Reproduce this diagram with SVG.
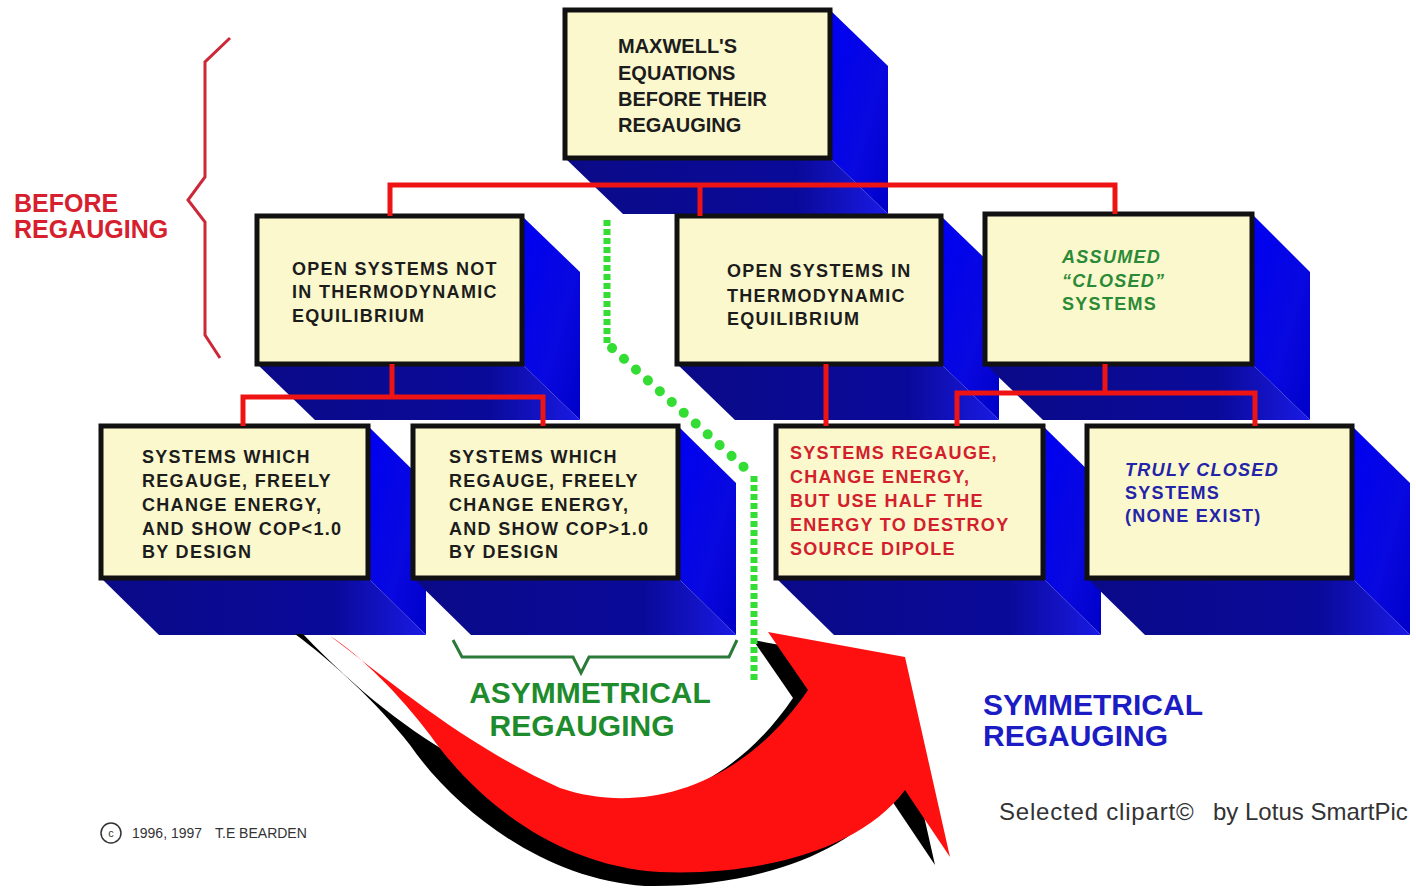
<svg xmlns="http://www.w3.org/2000/svg" width="1416" height="892" viewBox="0 0 1416 892">
<defs>
<linearGradient id="bot" x1="0" y1="0" x2="1" y2="0">
<stop offset="0" stop-color="#0a0a88"/>
<stop offset="0.72" stop-color="#0a0a9a"/>
<stop offset="1" stop-color="#1a1ae6"/>
</linearGradient>
<linearGradient id="side" x1="0" y1="0" x2="1" y2="1">
<stop offset="0" stop-color="#0000f2"/>
<stop offset="0.6" stop-color="#0808e0"/>
<stop offset="1" stop-color="#0000c8"/>
</linearGradient>
<style>
.side{fill:url(#side)}
.bot{fill:url(#bot)}
.front{fill:#fbf8cd;stroke:#111;stroke-width:5}
.t{font-family:"Liberation Sans",Arial,Helvetica,sans-serif;font-weight:bold}
.b1{font-size:20px;fill:#1c1c1c}
.bx{font-size:18px;letter-spacing:1.3px;fill:#1c1c1c}
.red{fill:#d2202c}
.grn{fill:#2b8a36}
.blu{fill:#2424a8}
.conn{fill:none;stroke:#ee1414;stroke-width:5}
.cr{font-family:"Liberation Sans",Arial,Helvetica,sans-serif;fill:#333}
</style>
</defs>
<rect width="1416" height="892" fill="#ffffff"/>

<!-- brace and left label -->
<g id="before-label">
<path d="M230 38 L205 62 V177 L188 200 L205 222 V335 L220 358" fill="none" stroke="#cc2838" stroke-width="3"/>
<text class="t" x="14" y="212" font-size="25" fill="#d6202e">BEFORE</text>
<text class="t" x="14" y="238" font-size="25" fill="#d6202e">REGAUGING</text>
</g>

<g id="box1">
<polygon class="side" points="830,10 888,66 888,214 830,158"/>
<polygon class="bot" points="565,158 830,158 888,214 623,214"/>
<rect class="front" x="565" y="10" width="265" height="148"/>
<text class="t b1" x="618" y="53">MAXWELL'S</text>
<text class="t b1" x="618" y="80">EQUATIONS</text>
<text class="t b1" x="618" y="106">BEFORE THEIR</text>
<text class="t b1" x="618" y="132">REGAUGING</text>
</g>

<g id="box2">
<polygon class="side" points="522,216 580,272 580,420 522,364"/>
<polygon class="bot" points="257,364 522,364 580,420 315,420"/>
<rect class="front" x="257" y="216" width="265" height="148"/>
<text class="t bx" x="292" y="275">OPEN SYSTEMS NOT</text>
<text class="t bx" x="292" y="298">IN THERMODYNAMIC</text>
<text class="t bx" x="292" y="322">EQUILIBRIUM</text>
</g>

<g id="box3">
<polygon class="side" points="941,216 999,272 999,420 941,364"/>
<polygon class="bot" points="677,364 941,364 999,420 735,420"/>
<rect class="front" x="677" y="216" width="264" height="148"/>
<text class="t bx" x="727" y="277">OPEN SYSTEMS IN</text>
<text class="t bx" x="727" y="302">THERMODYNAMIC</text>
<text class="t bx" x="727" y="325">EQUILIBRIUM</text>
</g>

<g id="box4">
<polygon class="side" points="1252,214 1310,272 1310,420 1252,364"/>
<polygon class="bot" points="985,364 1252,364 1310,420 1043,420"/>
<rect class="front" x="985" y="214" width="267" height="150"/>
<text class="t bx grn" x="1062" y="263" font-style="italic">ASSUMED</text>
<text class="t bx grn" x="1062" y="287" font-style="italic">“CLOSED”</text>
<text class="t bx grn" x="1062" y="310">SYSTEMS</text>
</g>

<g id="box5">
<polygon class="side" points="368,426 426,483 426,635 368,578"/>
<polygon class="bot" points="101,578 368,578 426,635 159,635"/>
<rect class="front" x="101" y="426" width="267" height="152"/>
<text class="t bx" x="142" y="463">SYSTEMS WHICH</text>
<text class="t bx" x="142" y="487">REGAUGE, FREELY</text>
<text class="t bx" x="142" y="511">CHANGE ENERGY,</text>
<text class="t bx" x="142" y="535">AND SHOW COP&lt;1.0</text>
<text class="t bx" x="142" y="558">BY DESIGN</text>
</g>

<g id="box6">
<polygon class="side" points="678,426 736,483 736,635 678,578"/>
<polygon class="bot" points="413,578 678,578 736,635 471,635"/>
<rect class="front" x="413" y="426" width="265" height="152"/>
<text class="t bx" x="449" y="463">SYSTEMS WHICH</text>
<text class="t bx" x="449" y="487">REGAUGE, FREELY</text>
<text class="t bx" x="449" y="511">CHANGE ENERGY,</text>
<text class="t bx" x="449" y="535">AND SHOW COP&gt;1.0</text>
<text class="t bx" x="449" y="558">BY DESIGN</text>
</g>

<g id="box7">
<polygon class="side" points="1043,426 1101,483 1101,635 1043,578"/>
<polygon class="bot" points="776,578 1043,578 1101,635 834,635"/>
<rect class="front" x="776" y="426" width="267" height="152"/>
<text class="t bx red" x="790" y="459">SYSTEMS REGAUGE,</text>
<text class="t bx red" x="790" y="483">CHANGE ENERGY,</text>
<text class="t bx red" x="790" y="507">BUT USE HALF THE</text>
<text class="t bx red" x="790" y="531">ENERGY TO DESTROY</text>
<text class="t bx red" x="790" y="555">SOURCE DIPOLE</text>
</g>

<g id="box8">
<polygon class="side" points="1352,426 1410,483 1410,635 1352,578"/>
<polygon class="bot" points="1087,578 1352,578 1410,635 1145,635"/>
<rect class="front" x="1087" y="426" width="265" height="152"/>
<text class="t bx blu" x="1125" y="476" font-style="italic">TRULY CLOSED</text>
<text class="t bx blu" x="1125" y="499">SYSTEMS</text>
<text class="t bx blu" x="1125" y="522">(NONE EXIST)</text>
</g>

<g id="connectors">
<path class="conn" d="M390 216 V185 H1115 V214 M700 185 V216"/>
<path class="conn" d="M392 364 V397 M243 426 V397 H543 V426"/>
<path class="conn" d="M826 364 V426"/>
<path class="conn" d="M1105 364 V393 M957 426 V393 H1255 V426"/>
</g>

<g id="big-arrow">
<path fill="#000" d="M303 634 C380 715 455 765 545 800 C625 823 725 798 793 698 L753 640 L890 665 L935 865 L890 798 C845 858 745 888 645 886 C545 880 455 810 410 745 C375 700 330 660 295 634 Z"/>
<path fill="#ff1010" d="M330 636 C395 685 465 745 560 788 C640 815 740 790 808 690 L768 632 L905 657 L950 857 L905 790 C860 850 760 876 660 872 C560 866 480 805 430 735 C400 695 360 655 330 636 Z"/>
</g>

<g id="asym-label">
<path d="M453 640 L462 657 H573 L581 673 L589 657 H729 L737 640" fill="none" stroke="#2a7a38" stroke-width="3"/>
<text class="t" x="590" y="703" font-size="30" text-anchor="middle" fill="#1e8c2c">ASYMMETRICAL</text>
<text class="t" x="582" y="736" font-size="30" text-anchor="middle" fill="#1e8c2c">REGAUGING</text>
</g>

<g id="divider">
<path d="M607 220 V343" fill="none" stroke="#33dd33" stroke-width="7" stroke-dasharray="6 3"/>
<path d="M612 348 L745 468" fill="none" stroke="#33dd33" stroke-width="10" stroke-linecap="round" stroke-dasharray="0.1 16"/>
<path d="M754 476 V683" fill="none" stroke="#33dd33" stroke-width="7" stroke-dasharray="6 3"/>
</g>

<g id="sym-label">
<text class="t" x="983" y="715" font-size="30" fill="#1c1cc4">SYMMETRICAL</text>
<text class="t" x="983" y="746" font-size="30" fill="#1c1cc4">REGAUGING</text>
</g>

<g id="credits">
<text class="cr" x="999" y="820" font-size="24" letter-spacing="0.8" fill="#444">Selected clipart©</text>
<text class="cr" x="1213" y="820" font-size="24" fill="#444">by Lotus SmartPic</text>
<circle cx="111" cy="833" r="10" fill="none" stroke="#333" stroke-width="1.5"/>
<text class="cr" x="111" y="837" font-size="11" text-anchor="middle">c</text>
<text class="cr" x="132" y="838" font-size="14">1996, 1997</text>
<text class="cr" x="215" y="838" font-size="14">T.E BEARDEN</text>
</g>
</svg>
